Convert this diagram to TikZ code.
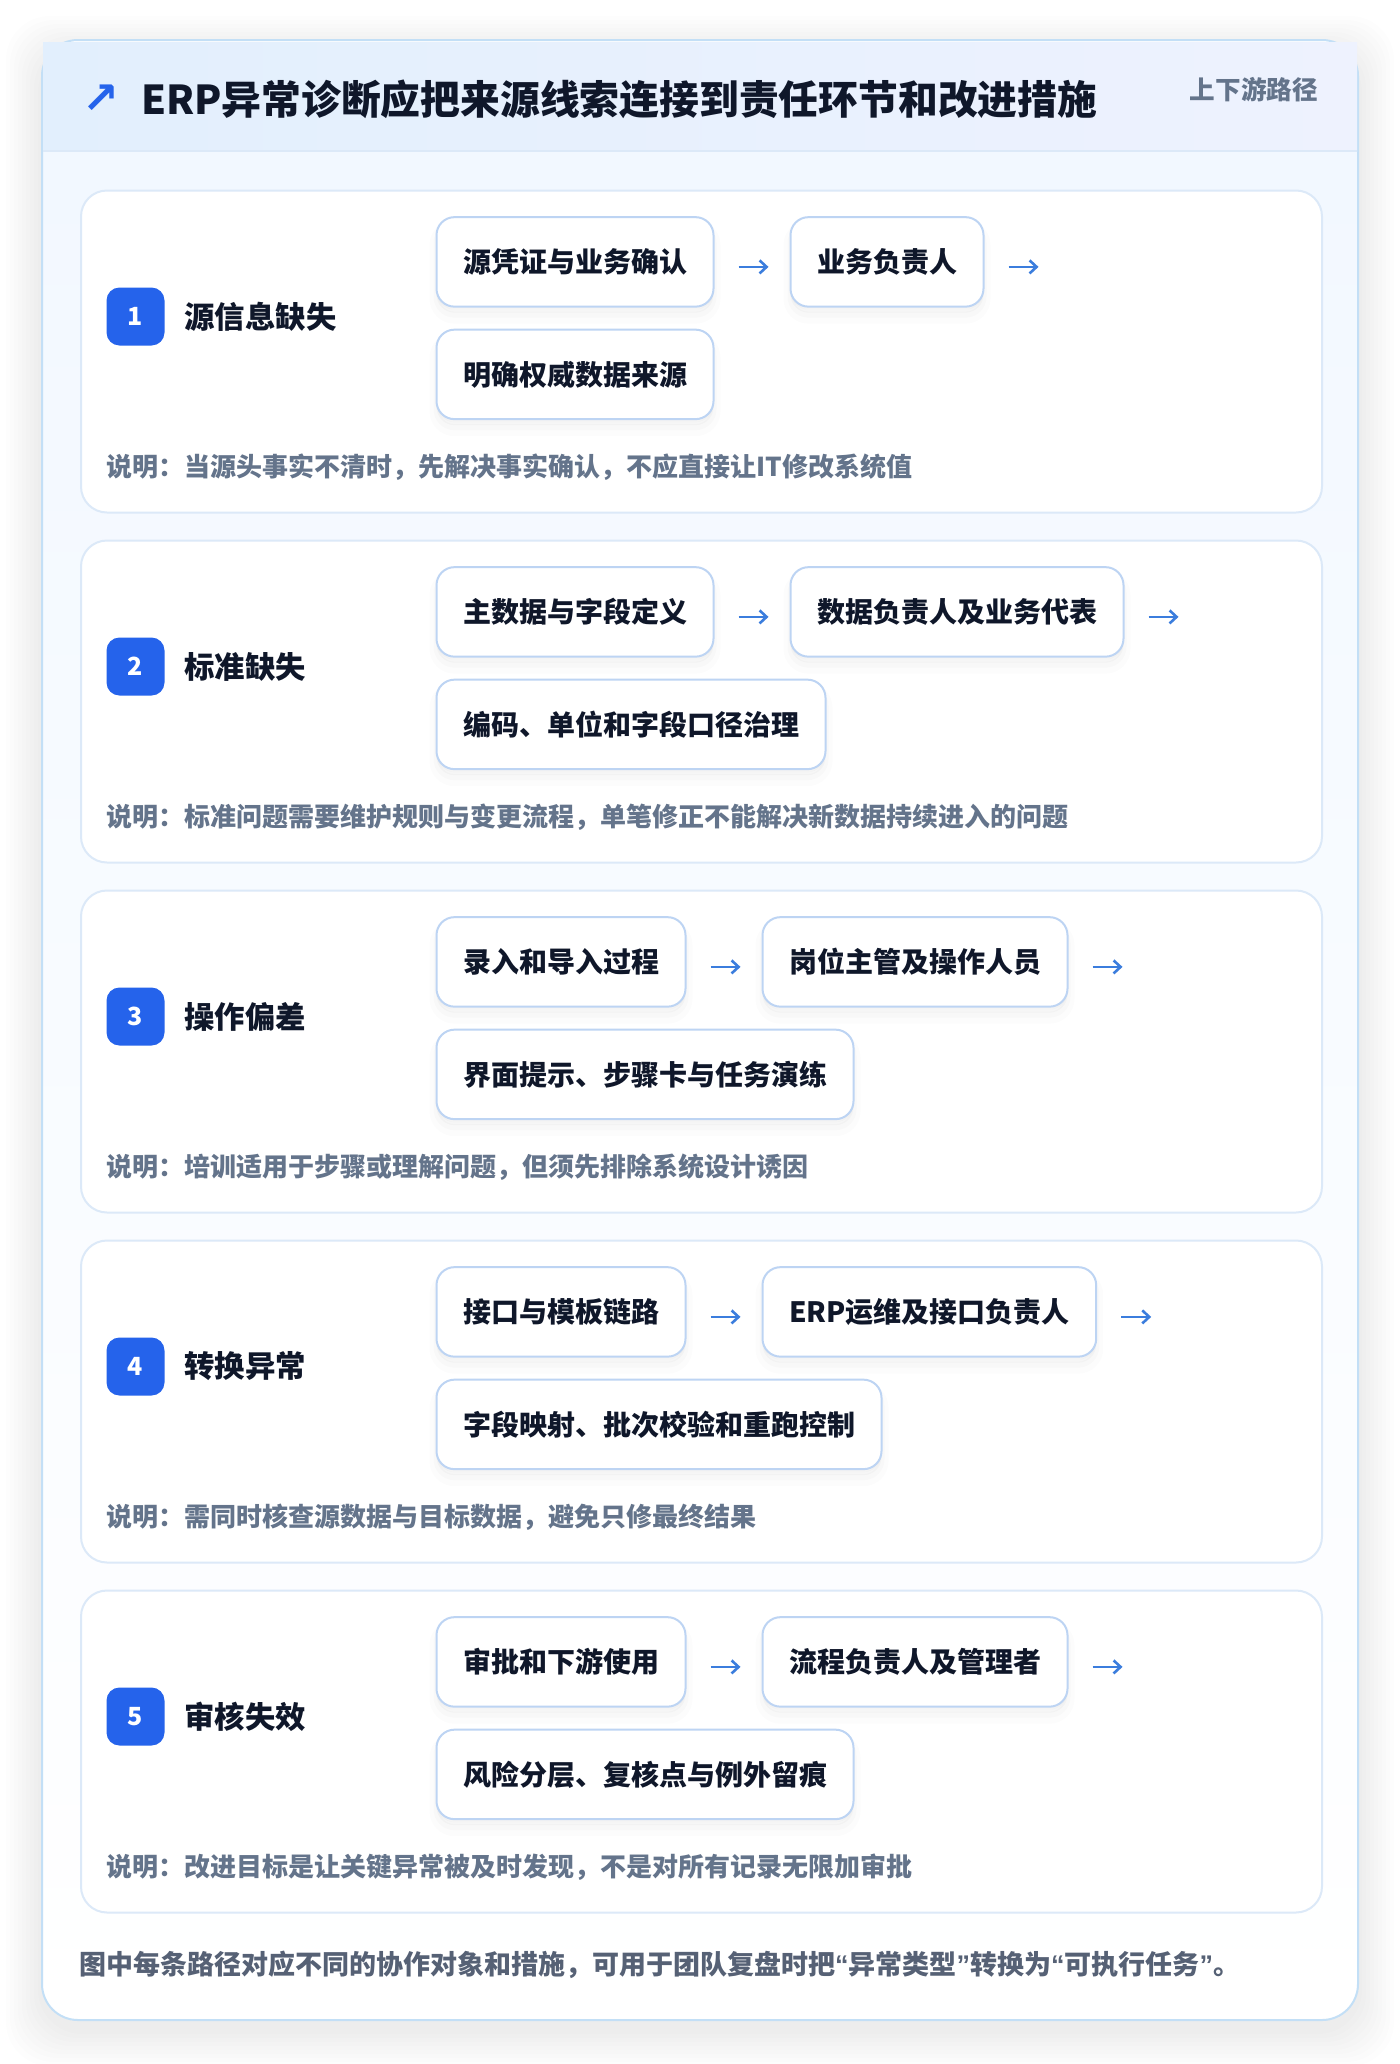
\documentclass[tikz,border=0pt]{standalone}
\usepackage{fontspec}
\setmainfont{Noto Sans CJK SC}
\newfontfamily\titlefont{Noto Sans CJK SC Black}
\newfontfamily\symfont{DejaVu Sans}
\newfontfamily\quotefont{Liberation Sans}
\usetikzlibrary{positioning,arrows.meta,calc}

\definecolor{ink}{HTML}{0F172A}
\definecolor{muted}{HTML}{64748B}
\definecolor{footgrey}{HTML}{566175}
\definecolor{brand}{HTML}{2563EB}
\definecolor{flow}{HTML}{3B7DDD}
\definecolor{cardline}{HTML}{DCE9F8}
\definecolor{boxline}{HTML}{BDD4F3}
\definecolor{frameline}{HTML}{C3DFF6}
\definecolor{headleft}{HTML}{E2EFFD}
\definecolor{headright}{HTML}{EEF2FE}
\definecolor{bodytop}{HTML}{F2F8FF}

\newcommand{\openq}{{\quotefont\bfseries “}}
\newcommand{\closeq}{{\quotefont\bfseries ”}}

\tikzset{
  stepcard/.style={draw=cardline, line width=2pt, fill=white, rounded corners=26pt,
    minimum width=1241pt, minimum height=322pt, anchor=north west, inner sep=0pt},
  badge/.style={fill=brand, rounded corners=13pt, minimum width=58pt, minimum height=58pt,
    inner sep=0pt, text=white, font=\bfseries\fontsize{25}{25}\selectfont},
  kind/.style={text=ink, inner sep=0pt, font=\bfseries\fontsize{30.4}{36}\selectfont},
  softshadow/.style={
    preaction={draw=black, line width=14pt, opacity=0.012, transform canvas={yshift=-10pt}},
    preaction={draw=black, line width=6pt, opacity=0.015, transform canvas={yshift=-8pt}},
    preaction={fill=black, opacity=0.025, transform canvas={yshift=-6pt}},
    preaction={fill=black, opacity=0.02, transform canvas={yshift=-3pt}}},
  pathbox/.style={draw=boxline, line width=2pt, fill=white, rounded corners=18pt,
    minimum height=89.5pt, inner xsep=26.5pt, inner ysep=0pt, text=ink,
    font=\bfseries\fontsize{28}{34}\selectfont, softshadow},
  flowarrow/.style={draw=flow, line width=2.6pt, -{Straight Barb[length=7pt,width=13pt]}},
  note/.style={anchor=west, text=muted, inner sep=0pt, font=\bfseries\fontsize{26}{32}\selectfont},
}

\begin{document}
\begin{tikzpicture}[x=1pt, y=-1pt]
  \useasboundingbox (0,0) rectangle (1400,2064);
  \fill[white] (0,0) rectangle (1400,2064);

  % outer frame
  \foreach \s in {4,8,...,36}
    \fill[black, opacity=0.008, rounded corners=44pt] (42-\s,52-\s) rectangle (1358+\s,2030+\s);
  \fill[white, rounded corners=36pt] (42,40) rectangle (1358,2020);
  \begin{scope}
    \clip[rounded corners=36pt] (42,40) rectangle (1358,2020);
    \shade[top color=bodytop, bottom color=white] (42,151) rectangle (1358,2020);
  \end{scope}
  \draw[frameline, line width=2pt, rounded corners=36pt] (42,40) rectangle (1358,2020);
  \shade[left color=headleft, right color=headright] (43,42) rectangle (1357,151);
  \draw[cardline, line width=2pt] (43,151) -- (1357,151);

  \node[text=brand, inner sep=0pt, font=\symfont\bfseries\fontsize{44}{44}\selectfont] (icon) at (101,99) {↗};
  \node[anchor=west, text=ink, inner sep=0pt, font=\titlefont\fontsize{39.8}{46}\selectfont] (title) at (141,99)
    {ERP异常诊断应把来源线索连接到责任环节和改进措施};
  \node[anchor=east, text=muted, inner sep=0pt, font=\bfseries\fontsize{25.6}{30}\selectfont] (subtitle) at (1318,89.5)
    {上下游路径};

  \foreach \n/\lab/\pa/\pb/\pc/\note in {
    1/源信息缺失/源凭证与业务确认/业务负责人/明确权威数据来源/说明：当源头事实不清时，先解决事实确认，不应直接让IT修改系统值,
    2/标准缺失/主数据与字段定义/数据负责人及业务代表/编码、单位和字段口径治理/说明：标准问题需要维护规则与变更流程，单笔修正不能解决新数据持续进入的问题,
    3/操作偏差/录入和导入过程/岗位主管及操作人员/界面提示、步骤卡与任务演练/说明：培训适用于步骤或理解问题，但须先排除系统设计诱因,
    4/转换异常/接口与模板链路/ERP运维及接口负责人/字段映射、批次校验和重跑控制/说明：需同时核查源数据与目标数据，避免只修最终结果,
    5/审核失效/审批和下游使用/流程负责人及管理者/风险分层、复核点与例外留痕/说明：改进目标是让关键异常被及时发现，不是对所有记录无限加审批}
  {
    \pgfmathsetmacro\cardtop{189.5+350*(\n-1)}
    \node[stepcard] (card\n) at (80,\cardtop) {};
    \node[badge] (badge\n) at (135.5,\cardtop+127) {\n};
    \node[kind, right=19.5pt of badge\n] (kind\n) {\lab};
    \node[pathbox, anchor=west] (pa\n) at (435.5,\cardtop+72.4) {\pa};
    \node[pathbox, right=75pt of pa\n] (pb\n) {\pb};
    \node[pathbox, below=21pt of pa\n.south west, anchor=north west] (pc\n) {\pc};
    \coordinate (end\n) at ($(pb\n.east)+(54,5)$);
    \draw[flowarrow, shorten <=24pt, shorten >=21pt] ([yshift=-5pt]pa\n.east) -- ([yshift=-5pt]pb\n.west);
    \draw[flowarrow, shorten <=24pt] ([yshift=-5pt]pb\n.east) -- (end\n);
    \node[note] (note\n) at (106.6,\cardtop+277.6) {\note};
  }

  \node[anchor=west, text=footgrey, inner sep=0pt, font=\bfseries\fontsize{27}{32}\selectfont] (footer) at (79,1964.5)
    {图中每条路径对应不同的协作对象和措施，可用于团队复盘时把\openq 异常类型\closeq 转换为\openq 可执行任务\closeq 。};
\end{tikzpicture}
\end{document}
